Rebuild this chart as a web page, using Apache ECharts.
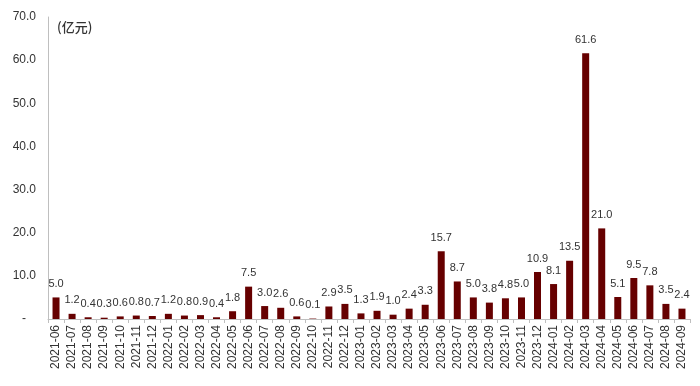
<!DOCTYPE html>
<html><head><meta charset="utf-8">
<script src="https://cdn.jsdelivr.net/npm/echarts@6/dist/echarts.min.js"></script>
<style>html,body{margin:0;padding:0;background:#fff}#c{width:700px;height:386px}</style>
</head><body><div id="c"></div>
<script>
const categories = ["2021-06","2021-07","2021-08","2021-09","2021-10","2021-11","2021-12","2022-01","2022-02","2022-03","2022-04","2022-05","2022-06","2022-07","2022-08","2022-09","2022-10","2022-11","2022-12","2023-01","2023-02","2023-03","2023-04","2023-05","2023-06","2023-07","2023-08","2023-09","2023-10","2023-11","2023-12","2024-01","2024-02","2024-03","2024-04","2024-05","2024-06","2024-07","2024-08","2024-09"];
const values = [5.0,1.2,0.4,0.3,0.6,0.8,0.7,1.2,0.8,0.9,0.4,1.8,7.5,3.0,2.6,0.6,0.1,2.9,3.5,1.3,1.9,1.0,2.4,3.3,15.7,8.7,5.0,3.8,4.8,5.0,10.9,8.1,13.5,61.6,21.0,5.1,9.5,7.8,3.5,2.4];
const unitLabel = "(亿元)";
const yMin = 0, yMax = 70, yStep = 10;

const chart = echarts.init(document.getElementById('c'));
chart.setOption({
  animation: false,
  textStyle: {fontFamily: 'Liberation Sans, Arial, sans-serif'},
  grid: {left: 48, right: 10, top: 17, bottom: 67},
  graphic: [{type: 'text', left: 57, top: 21, style: {text: unitLabel, font: '500 13px "Noto Sans CJK SC", sans-serif', fill: '#333'}}],
  xAxis: {
    type: 'category', data: categories,
    axisLine: {lineStyle: {color: '#bfbfbf', width: 1}},
    axisTick: {show: true, interval: 0, length: 4, lineStyle: {color: '#bfbfbf'}},
    axisLabel: {interval: 0, rotate: 90, fontSize: 12, color: '#333', margin: 6}
  },
  yAxis: {
    type: 'value', min: yMin, max: yMax, interval: yStep,
    splitLine: {show: false},
    axisLine: {show: true, lineStyle: {color: '#bfbfbf', width: 1}},
    axisTick: {show: false},
    axisLabel: {fontSize: 12, color: '#333', margin: 12,
      formatter: v => v === 0 ? '-   ' : v.toFixed(1)}
  },
  series: [{
    type: 'bar', data: values, barWidth: 7,
    itemStyle: {color: '#660000'},
    label: {show: true, position: 'top', fontSize: 11, color: '#333', distance: 8,
      formatter: p => p.value.toFixed(1)}
  }]
});
</script></body></html>
